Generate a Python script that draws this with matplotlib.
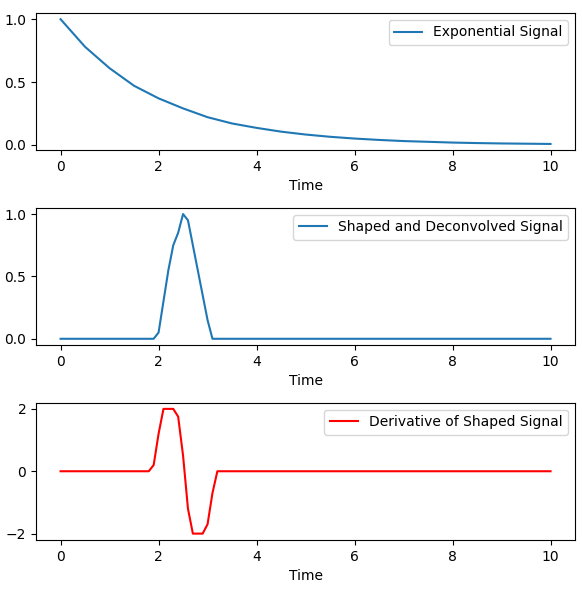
import numpy as np
import matplotlib.pyplot as plt

# exponential signal
t_exp = [0, 0.5, 1, 1.5, 2, 2.5, 3, 3.5, 4, 4.5, 5, 5.5, 6, 6.5, 7, 7.5, 8, 8.5, 9, 9.5, 10]
y_exp = [1.0, 0.78, 0.61, 0.47, 0.37, 0.29, 0.22, 0.17, 0.135, 0.105, 0.082,
         0.064, 0.05, 0.039, 0.03, 0.024, 0.018, 0.014, 0.011, 0.009, 0.007]

# shaped and deconvolved signal
t_shaped = [0, 1.9, 2.0, 2.1, 2.2, 2.3, 2.4, 2.5, 2.6, 2.7, 2.8, 2.9, 3.0, 3.1, 10]
y_shaped = [0, 0, 0.05, 0.3, 0.55, 0.75, 0.85, 1.0, 0.95, 0.75, 0.55, 0.35, 0.15, 0, 0]

# derivative of shaped signal
t_deriv = [0, 1.8, 1.9, 2.0, 2.1, 2.2, 2.3, 2.4, 2.5, 2.6, 2.7, 2.8, 2.9, 3.0, 3.1, 3.2, 10]
y_deriv = [0, 0, 0.2, 1.2, 2.0, 2.0, 2.0, 1.75, 0.5, -1.2, -2.0, -2.0, -2.0, -1.7, -0.7, 0, 0]

fig, axes = plt.subplots(3, 1, figsize=(5.82, 5.9), dpi=100)
fig.subplots_adjust(left=0.062, right=0.988, top=0.978, bottom=0.085, hspace=0.42)

axes[0].plot(t_exp, y_exp, label='Exponential Signal')
axes[1].plot(t_shaped, y_shaped, label='Shaped and Deconvolved Signal')
axes[2].plot(t_deriv, y_deriv, color='red', label='Derivative of Shaped Signal')

for ax in axes:
    ax.set_xlabel('Time')
    ax.legend(loc='upper right')
    ax.set_xticks([0, 2, 4, 6, 8, 10])

fig.savefig('out.png')
